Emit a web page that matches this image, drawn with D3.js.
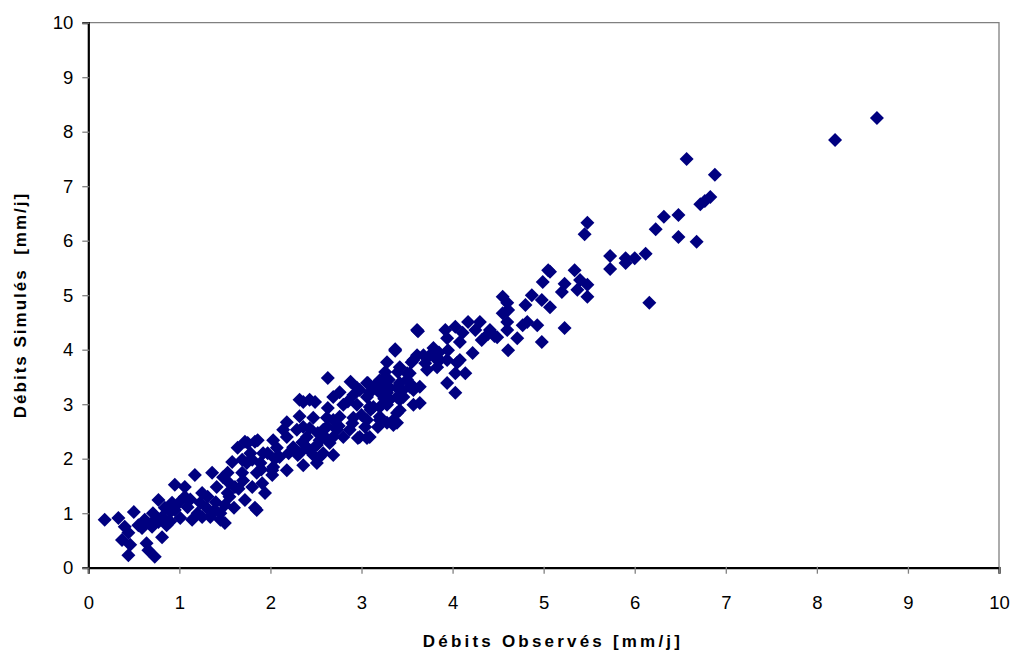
<!DOCTYPE html>
<html><head><meta charset="utf-8">
<script src="https://cdn.jsdelivr.net/npm/d3@7/dist/d3.min.js"></script>
<style>body{margin:0;background:#fff}svg{display:block}</style>
</head><body><svg id="c" width="1014" height="655"></svg>
<script>
const xTicks=[0,1,2,3,4,5,6,7,8,9,10];
const yTicks=[0,1,2,3,4,5,6,7,8,9,10];
const xLabel="Débits Observés [mm/j]";
const yLabel="Débits Simulés  [mm/j]";
const obs=[0.18,0.33,0.40,0.44,0.37,0.46,0.44,0.64,0.66,0.73,0.50,0.77,0.62,0.59,0.71,0.81,0.70,0.81,0.86,0.84,0.95,0.95,1.06,1.17,1.01,1.09,1.14,1.25,1.23,1.36,1.41,1.31,1.34,1.45,1.50,1.50,1.53,1.48,1.58,1.64,1.75,1.83,1.69,1.61,1.72,1.80,1.83,1.91,1.94,2.02,1.97,1.69,1.53,1.80,1.39,1.25,1.06,0.92,1.85,1.72,1.78,1.92,1.74,1.89,1.85,0.55,0.77,0.90,
2.03,2.18,2.36,2.02,2.10,2.30,2.07,2.25,2.40,2.51,2.65,2.69,2.58,2.47,1.86,2.03,2.18,2.40,2.54,2.14,2.29,2.43,2.58,2.73,2.87,2.80,2.96,3.06,2.18,2.32,2.47,2.62,2.76,2.91,3.06,3.20,3.35,3.04,3.18,3.35,2.36,2.49,2.63,2.80,2.95,3.13,3.28,3.42,3.57,2.76,2.91,3.06,3.20,3.31,3.46,3.57,2.63,2.88,3.07,3.20,3.26,3.50,3.28,3.55,3.37,3.61,3.62,2.98,3.09,3.24,3.39,3.53,3.64,3.64,3.42,3.31,3.09,2.69,2.69,2.62,2.43,2.36,2.52,2.98,3.09,2.69,3.28,3.39,3.20,3.39,2.43,2.32,2.54,2.51,2.32,
3.61,3.37,3.92,4.17,4.30,4.25,4.41,4.49,4.11,4.08,4.22,3.94,3.95,3.79,3.68,3.57,3.83,3.94,4.08,4.14,4.03,3.94,4.03,3.83,3.72,3.53,3.42,3.26,3.42,3.57,3.39,3.28,3.20,4.03,4.32,4.05,3.86,3.40,3.06,4.39,4.46,
4.55,4.61,4.60,4.60,4.87,4.98,5.07,4.80,4.82,4.93,4.98,4.71,4.61,5.07,4.99,5.05,5.23,5.20,5.34,5.40,5.48,5.37,5.48,5.23,5.48,5.45,4.55,4.77,4.60,
5.73,5.73,5.90,5.90,6.00,6.12,6.16,6.23,6.32,6.48,6.48,6.68,6.57,6.72,6.77,6.83,6.88,8.20,8.66,
1.20,1.30,1.40,1.45,1.55,1.60,1.65,1.70,1.12,1.00,0.90,0.75,0.68,1.55,1.90,2.05,2.20,2.35,2.60,2.75,2.90,3.00,3.10,3.25,3.45,3.50,3.70,3.75,3.85,2.85,2.95,3.15,3.30];
const sim=[0.88,0.91,0.75,0.64,0.51,0.42,0.23,0.45,0.32,0.20,1.02,1.24,0.88,0.73,1.00,0.93,0.75,0.56,0.78,1.10,1.06,1.52,1.48,1.70,0.91,1.11,0.88,0.93,1.19,1.74,1.48,1.30,0.93,0.88,0.82,1.15,1.37,1.66,1.94,2.20,2.29,2.31,1.74,1.48,1.24,1.48,1.10,1.55,1.37,1.79,2.10,1.98,1.74,1.98,1.06,1.37,1.30,1.19,1.06,2.31,2.10,2.10,1.92,1.92,1.74,0.78,0.84,1.02,
1.85,1.79,1.88,1.70,2.03,2.07,2.20,2.21,2.20,2.25,2.29,2.07,2.10,2.07,2.34,2.34,2.40,2.40,2.34,2.53,2.53,2.56,2.53,2.53,2.53,2.40,2.38,2.38,2.67,2.78,2.75,2.75,2.77,2.75,2.71,2.71,2.71,2.58,2.58,2.62,3.04,3.04,2.93,2.99,2.99,2.95,2.99,2.89,2.99,3.22,3.17,3.13,3.21,3.30,3.13,3.26,3.48,3.41,3.39,3.44,3.59,3.57,3.77,3.77,3.98,3.90,4.34,3.26,3.21,3.32,3.30,3.32,3.32,3.02,3.08,3.08,2.95,3.13,2.71,2.58,3.08,2.58,2.47,2.40,2.40,2.40,2.66,2.66,2.77,2.84,2.16,2.10,2.03,1.92,3.08,
4.36,4.01,4.36,4.51,4.51,4.36,4.36,4.23,4.31,4.14,3.94,4.21,3.99,4.03,3.90,3.81,3.81,3.81,3.81,3.57,3.57,3.39,3.21,3.68,3.63,3.57,3.68,3.50,3.39,3.32,3.13,3.21,2.95,4.42,4.18,3.76,3.81,3.59,3.39,4.29,4.25,
4.97,4.73,4.51,4.36,5.00,4.91,4.78,4.82,4.51,4.45,4.14,4.21,3.99,5.43,5.24,5.46,5.21,5.06,5.46,5.28,5.19,5.10,4.97,4.40,6.33,6.12,4.67,4.45,4.86,
5.72,5.48,5.68,5.59,5.68,5.76,4.86,6.21,6.44,6.47,6.07,5.98,7.50,6.67,6.73,6.80,7.21,7.85,8.25,
1.00,1.10,1.20,1.00,1.30,1.10,1.45,1.60,1.25,1.20,0.85,0.90,0.80,1.55,1.80,2.00,2.10,2.30,2.40,2.60,2.65,2.80,2.90,3.10,3.25,3.45,3.75,3.90,3.95,3.05,3.30,3.35,3.45];

const svg=d3.select("#c");
const L=88.3,R=999,T=22.7,B=567.7;
const x=d3.scaleLinear().domain([0,10]).range([L,R]);
const y=d3.scaleLinear().domain([0,10]).range([B,T]);
const font="'Liberation Sans', Arial, sans-serif";

svg.append("path").attr("d",`M${L},${T}H${R}V${B}`).attr("fill","none").attr("stroke","#808080").attr("stroke-width",1.3);

const xa=svg.append("g").attr("transform",`translate(0,${B})`)
 .call(d3.axisBottom(x).tickValues(xTicks).tickSize(6).tickPadding(22).tickFormat(d3.format("d")));
const ya=svg.append("g").attr("transform",`translate(${L},0)`)
 .call(d3.axisLeft(y).tickValues(yTicks).tickSize(6).tickPadding(9).tickFormat(d3.format("d")));
[xa,ya].forEach(a=>{
 a.select(".domain").attr("stroke","#000").attr("stroke-width",2.2);
 a.selectAll(".tick line").attr("stroke","#808080").attr("stroke-width",1.3);
 a.selectAll("text").attr("font-family",font).attr("font-size","18.5px").attr("fill","#000");
});
xa.selectAll(".tick line").attr("y1",-1);
ya.selectAll(".tick line").attr("x1",1);

const pts=obs.map((v,i)=>[v,sim[i]]);
const h=7;
svg.append("g").selectAll("path").data(pts).join("path")
 .attr("d",d=>{const cx=x(d[0]),cy=y(d[1]);return `M${cx},${cy-h}L${cx+h},${cy}L${cx},${cy+h}L${cx-h},${cy}Z`;})
 .attr("fill","#000080");

svg.append("text").attr("x",553).attr("y",647).attr("text-anchor","middle")
 .attr("font-family",font).attr("font-weight","bold").attr("font-size","17px")
 .attr("letter-spacing","3.2px").text(xLabel);
svg.append("text").attr("transform","translate(26,305) rotate(-90)").attr("text-anchor","middle")
 .attr("font-family",font).attr("font-weight","bold").attr("font-size","17px")
 .style("white-space","pre")
 .attr("letter-spacing","2px").text(yLabel);
</script></body></html>
